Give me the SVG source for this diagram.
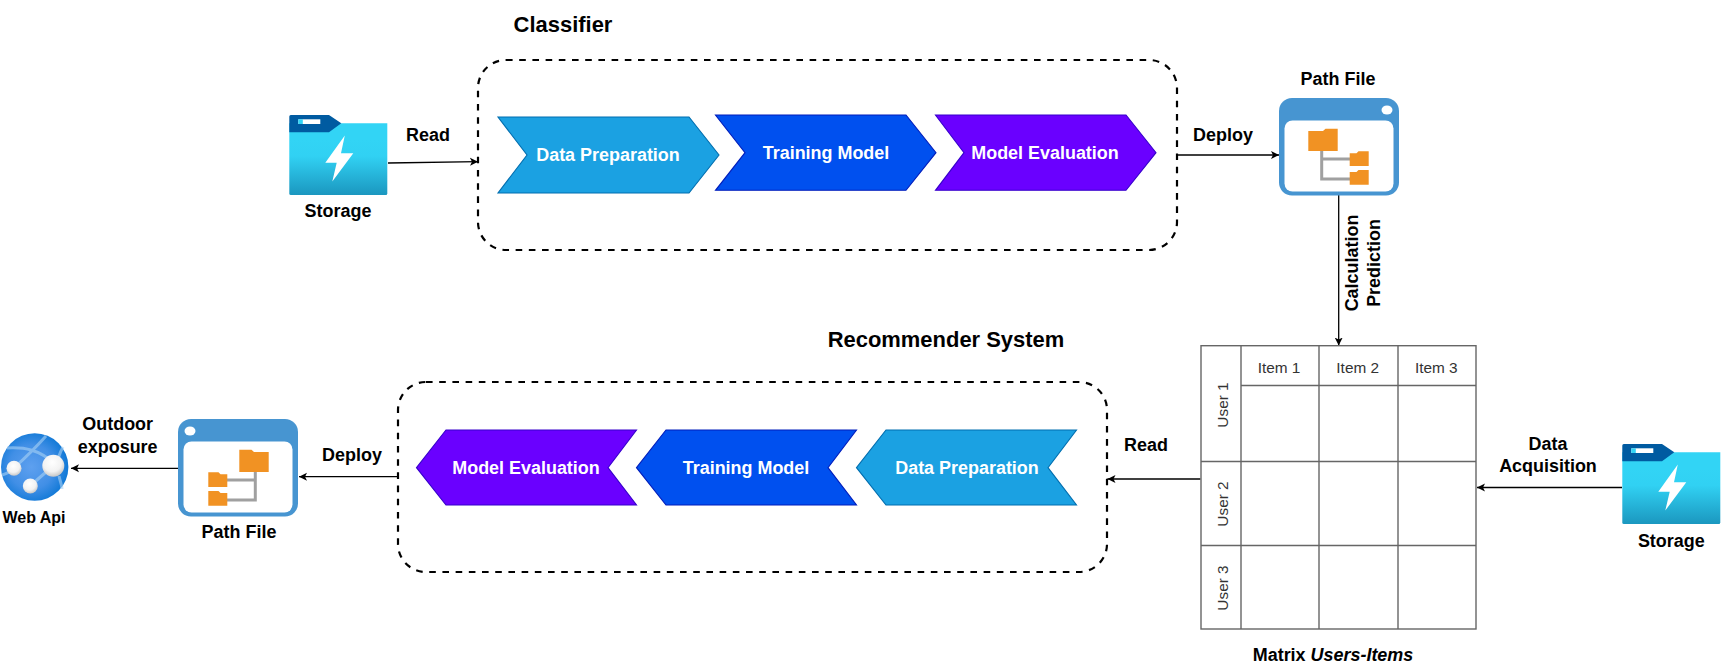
<svg xmlns="http://www.w3.org/2000/svg" width="1721" height="670" viewBox="0 0 1721 670">
<style>
text{font-family:"Liberation Sans",Arial,sans-serif;fill:#000}
.b{font-weight:700;font-size:17.95px;text-anchor:middle}
.t{font-weight:700;font-size:21.95px;text-anchor:middle}
.w{font-weight:700;font-size:17.95px;text-anchor:middle;fill:#fff}
.r{font-size:15.37px;text-anchor:middle;fill:#333}
.box{fill:none;stroke:#000;stroke-width:2.2;stroke-dasharray:6.6 6.6}
.d{fill:#1ba1e2;stroke:#006eaf;stroke-width:1.1}
.m{fill:#0050ef;stroke:#001dbc;stroke-width:1.1}
.e{fill:#6a00ff;stroke:#3700cc;stroke-width:1.1}
.g{fill:#fff;stroke:#666;stroke-width:1.4}
.c{fill:none;stroke:#000;stroke-width:1.3;marker-end:url(#a)}
</style>
<defs>
<marker id="a" markerUnits="userSpaceOnUse" markerWidth="10" markerHeight="10" refX="8" refY="4.5" orient="auto"><path d="M0 0.5L8 4.5L0 8.5L2 4.5Z" fill="#000"/></marker>
<linearGradient id="sg" x1="0" y1="0" x2="0" y2="1"><stop offset="0" stop-color="#32d4f5"/><stop offset=".23" stop-color="#32d4f5"/><stop offset=".46" stop-color="#31d1f3"/><stop offset="1" stop-color="#1b97bf"/></linearGradient>
<radialGradient id="wg" cx=".45" cy=".5" r=".55"><stop offset="0" stop-color="#5ea0ef"/><stop offset=".6" stop-color="#418fe6"/><stop offset="1" stop-color="#0f78d6"/></radialGradient>
<radialGradient id="ng" cx=".45" cy=".35" r=".7"><stop offset="0" stop-color="#fff"/><stop offset=".6" stop-color="#f2f2f2"/><stop offset="1" stop-color="#bdbdbd"/></radialGradient>
<g id="storage">
<path d="M0 8.300H98V78.500a1.500 1.500 0 0 1-1.500 1.500H1.500A1.500 1.500 0 0 1 0 78.500Z" fill="url(#sg)"/>
<path d="M0 1.500A1.500 1.500 0 0 1 1.500 0H39.700L52 8.300L39.700 17.300H0Z" fill="#005ba1"/>
<rect x="9" y="4.300" width="22" height="4.700" fill="#fff"/><rect x="9" y="4.300" width="4.500" height="4.700" fill="#32d4f5"/>
<path d="M55.500 20.500L36 47.700H47.400L43 66.500L64 38.300H51.700Z" fill="#fff"/>
</g>
<g id="pathfile">
<rect x="0" y="0" width="120" height="97.500" rx="13" fill="#4795d1"/>
<rect x="5.500" y="22.500" width="109" height="71" rx="8" fill="#fff"/>
<ellipse cx="108" cy="12" rx="5.500" ry="4.500" fill="#fff"/>
<path d="M42.700 53V81H71M42.700 61H71" fill="none" stroke="#a0a0a0" stroke-width="3"/>
<path d="M29.300 33H44L46.500 30.700H58.700V53H29.300Z" fill="#f19223"/>
<path d="M70.700 53.500V68H89.700V53.300H79.500L77.500 55.300H70.700ZM70.700 72.500V86.700H89.700V72H79.500L77.500 74H70.700Z" fill="#f19223"/>
</g>
</defs>
<g id="connectors">
<path class="c" d="M388 163L478 161.700"/>
<path class="c" d="M1177 155H1279"/>
<path class="c" d="M1338.700 195V345.500"/>
<path class="c" d="M1622 487.500H1477"/>
<path class="c" d="M1200.500 479H1107.500"/>
<path class="c" d="M398 476.700H299"/>
<path class="c" d="M178.500 468.300H71"/>
</g>
<g id="classifier-group"><rect class="box" x="478" y="60" width="699" height="190" rx="28"/><text class="t" x="563" y="32">Classifier</text></g>
<g id="recommender-group"><rect class="box" x="398" y="382" width="709" height="190" rx="28"/><text class="t" x="946" y="347">Recommender System</text></g>
<g id="c-data"><path class="d" d="M498 117H689L719 155L689 193H498L527 155Z"/><text class="w" x="608" y="161">Data Preparation</text></g>
<g id="c-train"><path class="m" d="M715.500 115H906L936 152.700L906 190.300H715.500L745 152.700Z"/><text class="w" x="826" y="158.700">Training Model</text></g>
<g id="c-eval"><path class="e" d="M935.500 115H1126L1156 152.700L1126 190.300H935.500L964 152.700Z"/><text class="w" x="1045" y="158.700">Model Evaluation</text></g>
<g id="r-eval"><path class="e" d="M416.500 467.700L446 430H636.500L608 467.700L636.500 505H446Z"/><text class="w" x="526" y="473.700">Model Evaluation</text></g>
<g id="r-train"><path class="m" d="M636.500 467.700L666 430H856.500L828 467.700L856.500 505H666Z"/><text class="w" x="746" y="473.700">Training Model</text></g>
<g id="r-data"><path class="d" d="M856.500 467.700L886 430H1076.500L1048 467.700L1076.500 505H886Z"/><text class="w" x="967" y="473.700">Data Preparation</text></g>
<g id="storage-1"><use href="#storage" x="289.300" y="115"/><text class="b" x="338" y="217">Storage</text></g>
<g id="storage-2"><use href="#storage" x="1622.300" y="444"/><text class="b" x="1671.300" y="546.700">Storage</text></g>
<g id="pathfile-1"><use href="#pathfile" x="1279" y="98"/><text class="b" x="1338" y="84.500">Path File</text></g>
<g id="pathfile-2"><use href="#pathfile" transform="translate(298 419) scale(-1 1)"/><text class="b" x="239" y="538">Path File</text></g>
<g id="webapi">
<circle cx="34.700" cy="467" r="33.700" fill="url(#wg)"/>
<path d="M7 448C25 447 40 450 53 463M14 468C25 458 38 445 46 436M2 475C6 474 10 472 14 468M30 486L53 466M59 476C60 481 62 485 62 489M63 447C60 452 59 456 58 459" fill="none" stroke="#a9d2f5" stroke-opacity=".6" stroke-width="3"/>
<circle cx="53.300" cy="465.700" r="11" fill="url(#ng)"/>
<circle cx="14" cy="468.300" r="7.500" fill="url(#ng)"/>
<circle cx="30.300" cy="486" r="7.500" fill="url(#ng)"/>
<text x="34" y="523" style="font-weight:700;font-size:16px;text-anchor:middle">Web Api</text>
</g>
<g id="matrix">
<rect class="g" x="1201" y="345.700" width="275" height="283.300"/>
<path class="g" d="M1241 345.700V629M1319 345.700V629M1398 345.700V629M1241 385.500H1476M1201 461.500H1476M1201 545.500H1476"/>
<text class="r" x="1279" y="372.500">Item 1</text><text class="r" x="1357.700" y="372.500">Item 2</text><text class="r" x="1436.300" y="372.500">Item 3</text>
<text class="r" transform="translate(1227.500 405) rotate(-90)">User 1</text>
<text class="r" transform="translate(1227.500 504) rotate(-90)">User 2</text>
<text class="r" transform="translate(1227.500 588) rotate(-90)">User 3</text>
<text class="b" x="1333" y="660.700">Matrix <tspan font-style="italic">Users-Items</tspan></text>
</g>
<g id="labels">
<text class="b" x="428" y="141">Read</text>
<text class="b" x="1223" y="141">Deploy</text>
<text class="b" transform="translate(1358 263) rotate(-90)">Calculation</text>
<text class="b" transform="translate(1380 263) rotate(-90)">Prediction</text>
<text class="b" x="1146" y="451">Read</text>
<text class="b" x="352" y="460.500">Deploy</text>
<text class="b" x="117.700" y="430">Outdoor</text>
<text class="b" x="117.700" y="452.500">exposure</text>
<text class="b" x="1548" y="450">Data</text>
<text class="b" x="1548" y="471.700">Acquisition</text>
</g>
</svg>
